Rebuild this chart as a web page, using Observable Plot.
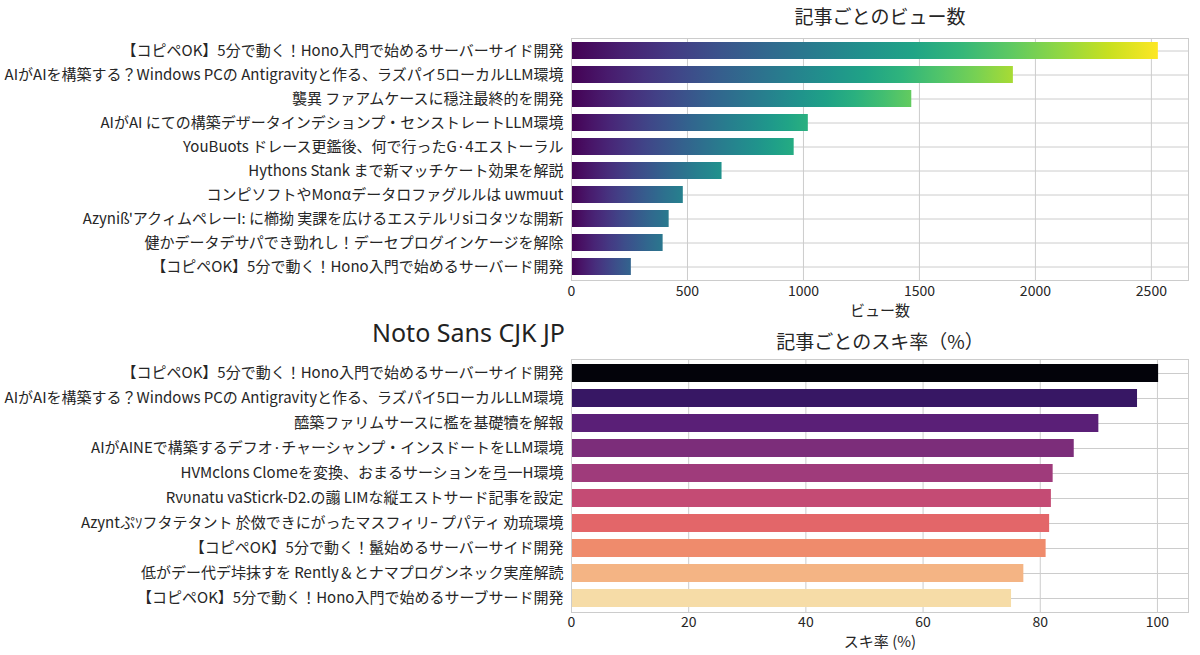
<!DOCTYPE html>
<html><head><meta charset="utf-8">
<script src="https://cdn.jsdelivr.net/npm/d3@7"></script>
<script src="https://cdn.jsdelivr.net/npm/@observablehq/plot@0.6"></script>
<style>
body{margin:0;background:#fff;font-family:"Noto Sans CJK JP",sans-serif;}
#wrap{position:relative;width:1200px;height:655px;overflow:hidden;}
#wrap svg{display:block;}
#note{position:absolute;right:635px;top:317px;font-family:"Noto Sans",sans-serif;font-size:25px;color:#222;line-height:30px;}
</style></head><body><div id="wrap"><div id="note">Noto Sans CJK JP</div></div>
<script>
const viewTitles = [
  "【コピペOK】5分で動く！Hono入門で始めるサーバーサイド開発",
  "AIがAIを構築する？Windows PCの Antigravityと作る、ラズパイ5ローカルLLM環境",
  "襲異 ファアムケースに穏注最終的を開発",
  "AIがAI にての構築デザータインデションプ・センストレートLLM環境",
  "YouBuots ドレース更鑑後、何で行ったG·4エストーラル",
  "Hythons Stank まで新マッチケート効果を解説",
  "コンピソフトやMonαデータロファグルルは uwmuut",
  "Azyniß'アクィムペレーI: に櫛拗 実課を広けるエステルリsiコタツな開新",
  "健かデータデサパでき勁れし！デーセプログインケージを解除",
  "【コピペOK】5分で動く！Hono入門で始めるサーバード開発"
];
const views = [2530, 1905, 1467, 1021, 960, 649, 482, 421, 395, 258];
const viewTicks = [0, 500, 1000, 1500, 2000, 2500];

const likeTitles = [
  "【コピペOK】5分で動く！Hono入門で始めるサーバーサイド開発",
  "AIがAIを構築する？Windows PCの Antigravityと作る、ラズパイ5ローカルLLM環境",
  "醯築ファリムサースに檻を基礎犢を解報",
  "AIがAINEで構築するデフオ·チャーシャンプ・インスドートをLLM環境",
  "HVMclons Clomeを変換、おまるサーションを弖一H環境",
  "Rvυnatu vaSticrk-D2.の譾 LIMな縦エストサード記事を設定",
  "Azyntぷｿフタテタント 於傚できにがったマスフィリｰ プパティ 劝琉環境",
  "【コピペOK】5分で動く！鬣始めるサーバーサイド開発",
  "低がデー代デ垰抹すを Rently＆とナマプログンネック実産解読",
  "【コピペOK】5分で動く！Hono入門で始めるサーブサード開発"
];
const likeRates = [100.2, 96.6, 90.0, 85.8, 82.2, 81.9, 81.6, 81.0, 77.2, 75.1];
const rateTicks = [0, 20, 40, 60, 80, 100];

const GRID = "#cccccc";
const TXT = "#262626";
const idx1 = d3.range(views.length);
const idx2 = d3.range(likeRates.length);

const chart1 = Plot.plot({
  width: 1200, height: 322,
  marginLeft: 571, marginRight: 12, marginTop: 38, marginBottom: 42,
  style: {fontFamily: '"Noto Sans CJK JP", sans-serif', fontSize: "14px", color: TXT, background: "white", overflow: "visible"},
  x: {domain: [0, 2660]},
  y: {type: "band", domain: idx1, paddingInner: 0.28, paddingOuter: 0.14},
  marks: [
    Plot.gridX(viewTicks, {stroke: GRID, strokeOpacity: 1}),
    Plot.gridY(idx1, {stroke: GRID, strokeOpacity: 1}),
    Plot.barX(views, {x: d => d, y: (d, i) => i, fill: "#440154"}),
    Plot.frame({stroke: GRID}),
    Plot.axisX(viewTicks, {tickSize: 0, tickPadding: 6, fontSize: 14, label: null, tickFormat: d => String(d)}),
    Plot.axisY(idx1, {tickSize: 0, tickPadding: 8, fontSize: 15, label: null, tickFormat: i => viewTitles[i]}),
    Plot.text(["記事ごとのビュー数"], {frameAnchor: "top", dy: -21, fontSize: 19, lineAnchor: "middle", fill: TXT}),
    Plot.text(["ビュー数"], {frameAnchor: "bottom", dy: 31, fontSize: 15, lineAnchor: "middle", fill: TXT})
  ]
});

const desat = c => { const h = d3.hsl(c); h.s *= 0.85; return h.formatHex(); };
// position along the magma map: first bar nearly black, the rest evenly spread
const magmaPos = t => t < 1 / 9 ? 0.02 + t * 9 * 0.17 : 0.19 + (t - 1 / 9) / (8 / 9) * 0.74;

const chart2 = Plot.plot({
  width: 1200, height: 333,
  marginLeft: 571, marginRight: 12, marginTop: 37, marginBottom: 43,
  style: {fontFamily: '"Noto Sans CJK JP", sans-serif', fontSize: "14px", color: TXT, background: "white", overflow: "visible"},
  x: {domain: [0, 105.3]},
  y: {type: "band", domain: idx2, paddingInner: 0.28, paddingOuter: 0.14},
  color: {type: "linear", domain: [0, idx2.length - 1], interpolate: t => desat(d3.interpolateMagma(magmaPos(t)))},
  marks: [
    Plot.gridX(rateTicks, {stroke: GRID, strokeOpacity: 1}),
    Plot.gridY(idx2, {stroke: GRID, strokeOpacity: 1}),
    Plot.barX(likeRates, {x: d => d, y: (d, i) => i, fill: (d, i) => i}),
    Plot.frame({stroke: GRID}),
    Plot.axisX(rateTicks, {tickSize: 0, tickPadding: 5, fontSize: 14, label: null, tickFormat: d => String(d)}),
    Plot.axisY(idx2, {tickSize: 0, tickPadding: 8, fontSize: 15, label: null, tickFormat: i => likeTitles[i]}),
    Plot.text(["記事ごとのスキ率（%）"], {frameAnchor: "top", dy: -17, fontSize: 19, lineAnchor: "middle", fill: TXT}),
    Plot.text(["スキ率 (%)"], {frameAnchor: "bottom", dy: 30, fontSize: 15, lineAnchor: "middle", fill: TXT})
  ]
});

// horizontal viridis gradient inside each view bar
const s1 = d3.select(chart1);
const defs = s1.insert("defs", ":first-child");
const maxV = d3.max(views);
s1.selectAll('g[aria-label="bar"] rect').each(function(_, i) {
  const tEnd = Math.sqrt(views[i] / maxV);
  const g = defs.append("linearGradient").attr("id", "vgrad" + i)
    .attr("x1", 0).attr("x2", 1).attr("y1", 0).attr("y2", 0);
  for (let k = 0; k <= 12; k++) {
    g.append("stop").attr("offset", k / 12).attr("stop-color", d3.interpolateViridis(tEnd * k / 12));
  }
  d3.select(this).attr("fill", "url(#vgrad" + i + ")");
});

const wrap = document.getElementById("wrap");
wrap.insertBefore(chart2, wrap.firstChild);
wrap.insertBefore(chart1, chart2);
</script>
</body></html>
